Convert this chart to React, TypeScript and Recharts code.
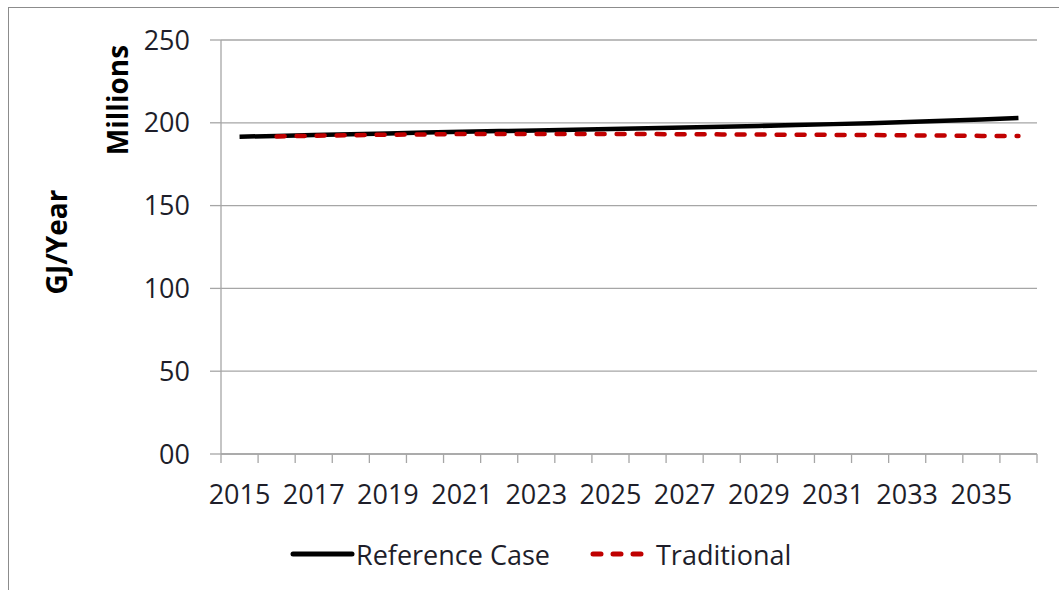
import React from "react";
import { LineChart, Line, XAxis, YAxis, CartesianGrid, Legend } from "recharts";

const years = [
  2015, 2016, 2017, 2018, 2019, 2020, 2021, 2022, 2023, 2024, 2025,
  2026, 2027, 2028, 2029, 2030, 2031, 2032, 2033, 2034, 2035, 2036,
];
const referenceCase = [
  191.6, 192.1, 192.6, 193.1, 193.6, 194.1, 194.6, 195.0, 195.4, 195.8, 196.2,
  196.7, 197.1, 197.6, 198.1, 198.6, 199.2, 199.8, 200.5, 201.2, 202.0, 202.9,
];
const traditional = [
  null, 191.8, 192.2, 192.5, 192.8, 193.0, 193.2, 193.3, 193.3, 193.3, 193.2,
  193.2, 193.1, 193.0, 192.9, 192.8, 192.7, 192.6, 192.4, 192.3, 192.1, 192.0,
];
const yTicks = [0, 50, 100, 150, 200, 250];
const xLabelYears = [2015, 2017, 2019, 2021, 2023, 2025, 2027, 2029, 2031, 2033, 2035];

const data = years.map((year, i) => ({
  year,
  reference: referenceCase[i],
  traditional: traditional[i],
}));
const bandEdges = [...years.map((y) => y - 0.5), years[years.length - 1] + 0.5];

const FONT = "'Open Sans', Lato, sans-serif";
const GRAY = "#a6a6a6";
const TEXT = "#1e1e2a";

const renderLegend = (props: any) => {
  const items = props.payload || [];
  return (
    <div style={{ display: "flex", alignItems: "center", height: 40, paddingLeft: 290, fontFamily: FONT, fontSize: 27, color: TEXT }}>
      {items.map((item: any, i: number) => (
        <div key={item.value} style={{ display: "flex", alignItems: "center", marginRight: i === 0 ? 40 : 0 }}>
          <svg width={66} height={12}>
            <line
              x1={3}
              y1={6}
              x2={i === 0 ? 62 : 56}
              y2={6}
              stroke={item.color}
              strokeWidth={5}
              strokeLinecap="round"
              strokeDasharray={i === 0 ? undefined : "8 12"}
            />
          </svg>
          <span>{item.value}</span>
        </div>
      ))}
    </div>
  );
};

const axisLabels = () => (
  <g fontFamily={FONT} fontWeight="bold" fontSize={28} fill="#000">
    <text x={56} y={242} transform="rotate(-90, 56, 242)" textAnchor="middle" dominantBaseline="central">
      GJ/Year
    </text>
    <text x={117} y={100} transform="rotate(-90, 117, 100)" textAnchor="middle" dominantBaseline="central">
      Millions
    </text>
  </g>
);

export default function App() {
  return (
    <div style={{ position: "absolute", left: 0, top: 0, width: 1059, height: 590, overflow: "hidden", background: "#fff" }}>
      <div style={{ position: "absolute", left: 8, top: 7, width: 1100, height: 620, border: "1px solid #8c8c8c" }} />
      <LineChart width={1059} height={590} data={data} margin={{ top: 40, right: 22, left: 0, bottom: 16 }}>
        <CartesianGrid vertical={false} stroke={GRAY} strokeWidth={1.3} />
        <XAxis
          xAxisId="bounds"
          dataKey="year"
          type="number"
          domain={[2014.5, 2036.5]}
          ticks={bandEdges}
          tickFormatter={() => ""}
          tickSize={9}
          height={10}
          stroke={GRAY}
          strokeWidth={1.3}
          tickLine={{ stroke: GRAY, strokeWidth: 1.3 }}
        />
        <XAxis
          xAxisId="years"
          dataKey="year"
          type="number"
          domain={[2014.5, 2036.5]}
          ticks={xLabelYears}
          interval={0}
          axisLine={false}
          tickLine={false}
          height={70}
          tickMargin={15}
          tick={{ fill: TEXT, fontSize: 27, fontFamily: FONT }}
        />
        <YAxis
          width={221}
          domain={[0, 250]}
          ticks={yTicks}
          tickFormatter={(v: number) => (v === 0 ? "00" : String(v))}
          tickSize={11}
          tickMargin={20}
          stroke={GRAY}
          strokeWidth={1.3}
          tick={{ fill: TEXT, fontSize: 27, fontFamily: FONT }}
          label={{ content: axisLabels }}
        />
        <Legend verticalAlign="bottom" content={renderLegend} />
        <Line
          xAxisId="years"
          dataKey="reference"
          name="Reference Case"
          stroke="#000000"
          strokeWidth={4.5}
          dot={false}
          isAnimationActive={false}
        />
        <Line
          xAxisId="years"
          dataKey="traditional"
          name="Traditional"
          stroke="#c00000"
          strokeWidth={4.5}
          strokeDasharray="8 12"
          strokeLinecap="round"
          dot={false}
          isAnimationActive={false}
        />
      </LineChart>
    </div>
  );
}
